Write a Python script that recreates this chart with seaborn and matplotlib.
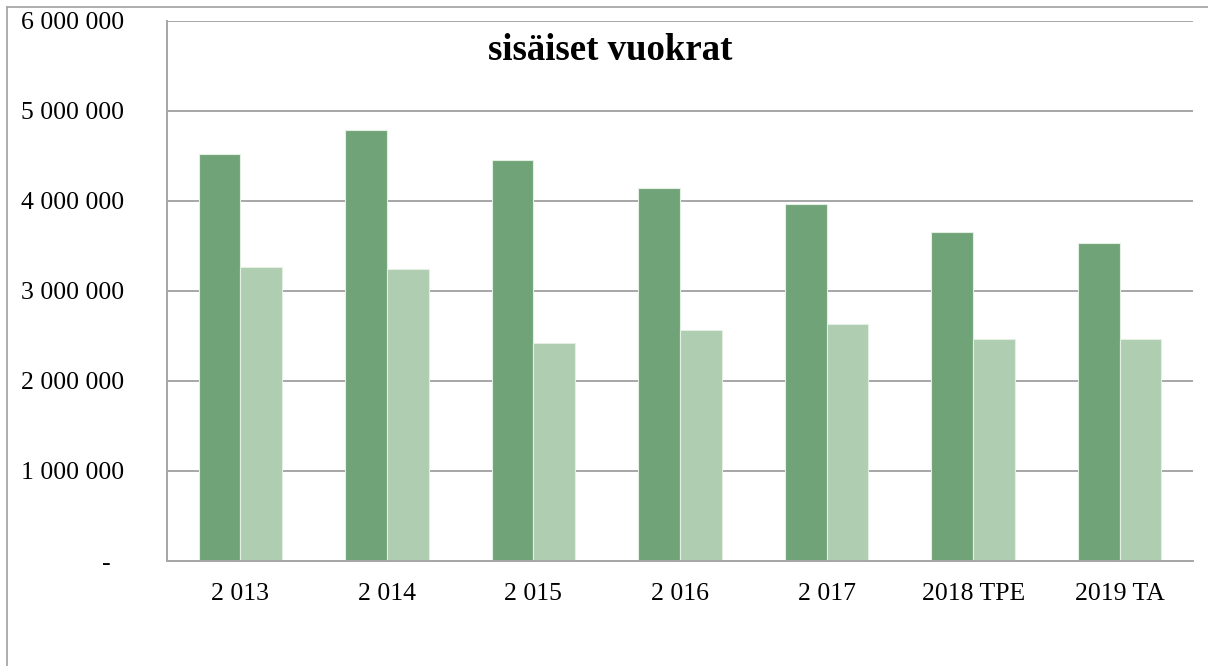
import matplotlib
matplotlib.use("Agg")
import matplotlib.pyplot as plt
from matplotlib.lines import Line2D
import seaborn as sns
import pandas as pd

categories = ["2 013", "2 014", "2 015", "2 016", "2 017", "2018 TPE", "2019 TA"]
series_names = ["A", "B"]
dark_values = [4520000, 4790000, 4450000, 4140000, 3970000, 3650000, 3530000]
light_values = [3270000, 3240000, 2420000, 2570000, 2630000, 2470000, 2470000]
y_ticks = [0, 1000000, 2000000, 3000000, 4000000, 5000000, 6000000]
y_tick_labels = ["-  ", "1 000 000", "2 000 000", "3 000 000", "4 000 000", "5 000 000", "6 000 000"]
title = "sisäiset vuokrat"

df = pd.DataFrame({
    "cat": categories * 2,
    "series": [series_names[0]] * len(categories) + [series_names[1]] * len(categories),
    "value": dark_values + light_values,
})

sns.set_theme(style="white")
plt.rcParams["font.family"] = ["Liberation Serif", "DejaVu Serif"]

fig = plt.figure(figsize=(12.08, 6.66), dpi=100)
ax = fig.add_axes([167 / 1208, 1 - 561 / 666, (1193 - 167) / 1208, (561 - 21) / 666])

sns.barplot(data=df, x="cat", y="value", hue="series", order=categories,
            hue_order=series_names, palette=["#71A378", "#AFCDB0"], saturation=1,
            width=0.57, edgecolor="#E4EFE4", linewidth=0.8, legend=False,
            ax=ax, zorder=3)

ax.set_ylim(0, 6000000)
ax.set_xlim(-0.5, len(categories) - 0.5)
ax.set_yticks(y_ticks)
ax.set_yticklabels(y_tick_labels, fontsize=18.5, color="black")
ax.tick_params(axis="y", length=0, pad=31)
ax.tick_params(axis="x", length=0, pad=16, labelsize=18.5, labelcolor="black")
ax.set_xlabel("")
ax.set_ylabel("")
ax.yaxis.grid(True, color="#A6A6A6", linewidth=1.4, zorder=0)
ax.set_axisbelow(True)
for side in ["top", "right"]:
    ax.spines[side].set_visible(False)
for side in ["left", "bottom"]:
    ax.spines[side].set_color("#A6A6A6")
    ax.spines[side].set_linewidth(1.4)
    ax.spines[side].set_zorder(4)

ax.text(0.432, 0.946, title, transform=ax.transAxes, ha="center", va="center",
        fontsize=26.5, fontweight="bold", color="black")

# outer chart frame
fx0 = 7.5 / 1208
fy0 = 1 - 6.5 / 666
fig.add_artist(Line2D([fx0, fx0], [0, fy0], transform=fig.transFigure, color="#A0A0A0", linewidth=1.2))
fig.add_artist(Line2D([fx0, 1], [fy0, fy0], transform=fig.transFigure, color="#A0A0A0", linewidth=1.2))

fig.savefig("out.png", dpi=100, facecolor="white")
